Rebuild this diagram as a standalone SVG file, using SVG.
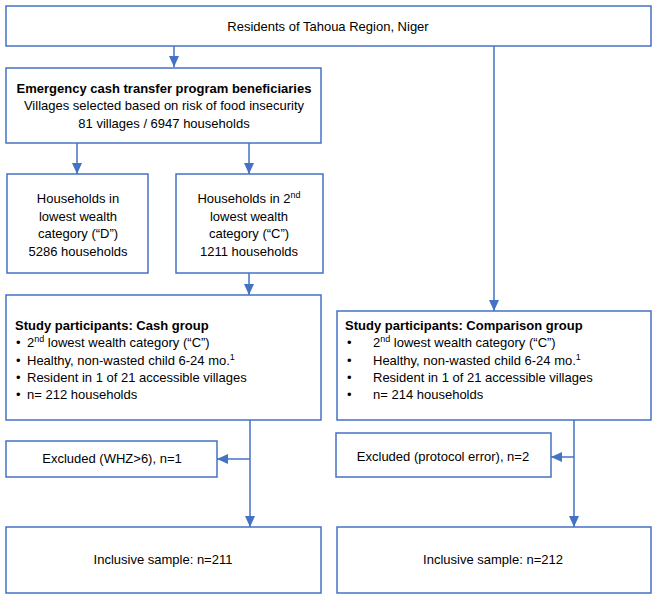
<svg xmlns="http://www.w3.org/2000/svg" width="657" height="600" viewBox="0 0 657 600">
<style>
.box{fill:#fff;stroke:#4472C4;stroke-width:1.5}
.ln{fill:none;stroke:#4472C4;stroke-width:1.5}
text{font-family:"Liberation Sans",Arial,sans-serif;font-size:13px;fill:#000}
.c{text-anchor:middle}
.b{font-weight:bold}
.sup{font-size:9px}
</style>
<defs>
<marker id="ah" viewBox="0 0 11 10" refX="11" refY="5" markerWidth="11" markerHeight="10" markerUnits="userSpaceOnUse" orient="auto">
<path d="M0,0 L11,5 L0,10 z" fill="#4472C4"/>
</marker>
</defs>
<rect width="657" height="600" fill="#fff"/>
<g id="connectors">
<line class="ln" x1="174" y1="46" x2="174" y2="67" marker-end="url(#ah)"/>
<line class="ln" x1="77" y1="143" x2="77" y2="174" marker-end="url(#ah)"/>
<line class="ln" x1="249" y1="143" x2="249" y2="174" marker-end="url(#ah)"/>
<line class="ln" x1="249" y1="273" x2="249" y2="295" marker-end="url(#ah)"/>
<line class="ln" x1="494" y1="46" x2="494" y2="311" marker-end="url(#ah)"/>
<line class="ln" x1="250" y1="420" x2="250" y2="527" marker-end="url(#ah)"/>
<line class="ln" x1="250" y1="459" x2="217" y2="459" marker-end="url(#ah)"/>
<line class="ln" x1="574" y1="420" x2="574" y2="527" marker-end="url(#ah)"/>
<line class="ln" x1="574" y1="457" x2="551" y2="457" marker-end="url(#ah)"/>
</g>
<g id="residents">
<rect class="box" x="6" y="6" width="645" height="40"/>
<text class="c" x="328" y="31">Residents of Tahoua Region, Niger</text>
</g>
<g id="beneficiaries">
<rect class="box" x="6" y="68" width="315" height="75"/>
<text class="c b" x="164" y="93">Emergency cash transfer program beneficiaries</text>
<text class="c" x="164" y="110">Villages selected based on risk of food insecurity</text>
<text class="c" x="164" y="128">81 villages / 6947 households</text>
</g>
<g id="households-d">
<rect class="box" x="7" y="174" width="141" height="99"/>
<text class="c" x="78" y="203">Households in</text>
<text class="c" x="78" y="221">lowest wealth</text>
<text class="c" x="78" y="238">category (“D”)</text>
<text class="c" x="78" y="256">5286 households</text>
</g>
<g id="households-c">
<rect class="box" x="176" y="174" width="147" height="99"/>
<text class="c" x="249" y="203">Households in 2<tspan class="sup" dy="-5">nd</tspan></text>
<text class="c" x="249" y="221">lowest wealth</text>
<text class="c" x="249" y="238">category (“C”)</text>
<text class="c" x="249" y="256">1211 households</text>
</g>
<g id="cash-group">
<rect class="box" x="6" y="295" width="315" height="125"/>
<text class="b" x="15" y="330">Study participants: Cash group</text>
<text x="16" y="347">•</text><text x="27" y="347">2<tspan class="sup" dy="-5">nd</tspan><tspan dy="5"> lowest wealth category (“C”)</tspan></text>
<text x="16" y="365">•</text><text x="27" y="365">Healthy, non-wasted child 6-24 mo.<tspan class="sup" dy="-5">1</tspan></text>
<text x="16" y="382">•</text><text x="27" y="382">Resident in 1 of 21 accessible villages</text>
<text x="16" y="399">•</text><text x="27" y="399">n= 212 households</text>
</g>
<g id="comparison-group">
<rect class="box" x="337" y="311" width="314" height="109"/>
<text class="b" x="345" y="330">Study participants: Comparison group</text>
<text x="347" y="347">•</text><text x="373" y="347">2<tspan class="sup" dy="-5">nd</tspan><tspan dy="5"> lowest wealth category (“C”)</tspan></text>
<text x="347" y="365">•</text><text x="373" y="365">Healthy, non-wasted child 6-24 mo.<tspan class="sup" dy="-5">1</tspan></text>
<text x="347" y="382">•</text><text x="373" y="382">Resident in 1 of 21 accessible villages</text>
<text x="347" y="399">•</text><text x="373" y="399">n= 214 households</text>
</g>
<g id="excluded-cash">
<rect class="box" x="6" y="441" width="211" height="36"/>
<text class="c" x="112" y="463">Excluded (WHZ&gt;6), n=1</text>
</g>
<g id="excluded-comparison">
<rect class="box" x="336" y="433" width="215" height="44"/>
<text class="c" x="443" y="461">Excluded (protocol error), n=2</text>
</g>
<g id="inclusive-cash">
<rect class="box" x="6" y="527" width="315" height="66"/>
<text class="c" x="163" y="564">Inclusive sample: n=211</text>
</g>
<g id="inclusive-comparison">
<rect class="box" x="337" y="527" width="314" height="66"/>
<text class="c" x="493" y="564">Inclusive sample: n=212</text>
</g>
</svg>
